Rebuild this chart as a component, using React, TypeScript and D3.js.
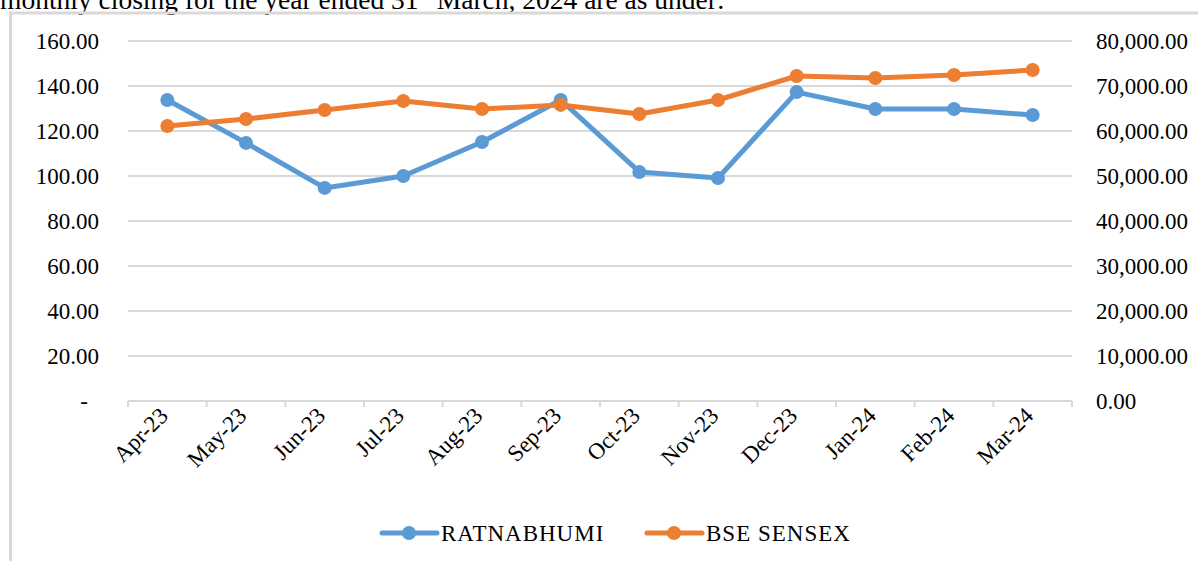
import React, { useEffect, useRef } from 'react';
import * as d3 from 'd3';

const months = ['Apr-23', 'May-23', 'Jun-23', 'Jul-23', 'Aug-23', 'Sep-23', 'Oct-23', 'Nov-23', 'Dec-23', 'Jan-24', 'Feb-24', 'Mar-24'];
const ratnabhumi = [133.8, 114.7, 94.7, 100.0, 115.1, 133.8, 101.8, 99.1, 137.3, 129.8, 129.8, 127.1];
const sensex = [61100, 62660, 64670, 66660, 64890, 65800, 63770, 66890, 72220, 71780, 72440, 73550];
const leftTicks = [0, 20, 40, 60, 80, 100, 120, 140, 160];
const rightTicks = [0, 10000, 20000, 30000, 40000, 50000, 60000, 70000, 80000];

const BLUE = '#5B9BD5';
const ORANGE = '#ED7D31';
const GRID = '#d9d9d9';
const FONT = '"Liberation Serif", serif';

const App = () => {
  const svgRef = useRef(null);

  useEffect(() => {
    const width = 1198;
    const height = 561;
    const margin = { top: 41, left: 128, right: 126, bottom: 160 };
    const innerW = width - margin.left - margin.right;
    const innerH = height - margin.top - margin.bottom;

    const svg = d3.select(svgRef.current);
    svg.selectAll('*').remove();
    svg.attr('width', width).attr('height', height);

    // page text cut off at the top
    const title = svg.append('text')
      .attr('x', 0)
      .attr('y', 9)
      .attr('font-family', FONT)
      .attr('font-size', 27.5)
      .attr('fill', '#000');
    title.append('tspan').text('monthly closing for the year ended 31');
    title.append('tspan').attr('dy', -10).attr('font-size', 17).text('st');
    title.append('tspan').attr('dy', 10).text(' March, 2024 are as under:');

    // chart frame
    svg.append('rect')
      .attr('x', 10.5)
      .attr('y', 13)
      .attr('width', 1200)
      .attr('height', 600)
      .attr('fill', 'none')
      .attr('stroke', GRID)
      .attr('stroke-width', 3);

    const g = svg.append('g').attr('transform', `translate(${margin.left},${margin.top})`);

    const x = d3.scaleBand().domain(months).range([0, innerW]);
    const yL = d3.scaleLinear().domain([0, 160]).range([innerH, 0]);
    const yR = d3.scaleLinear().domain([0, 80000]).range([innerH, 0]);

    // gridlines
    g.selectAll('.grid')
      .data(leftTicks.filter(d => d > 0))
      .enter()
      .append('line')
      .attr('x1', 0)
      .attr('x2', innerW)
      .attr('y1', d => yL(d))
      .attr('y2', d => yL(d))
      .attr('stroke', GRID)
      .attr('stroke-width', 2);

    // x axis
    g.append('line')
      .attr('x1', 0).attr('x2', innerW)
      .attr('y1', innerH).attr('y2', innerH)
      .attr('stroke', GRID).attr('stroke-width', 2);
    const bounds = months.map(m => x(m)).concat([innerW]);
    g.selectAll('.xtick')
      .data(bounds)
      .enter()
      .append('line')
      .attr('x1', d => d).attr('x2', d => d)
      .attr('y1', innerH).attr('y2', innerH + 6)
      .attr('stroke', GRID).attr('stroke-width', 2);

    g.selectAll('.xlabel')
      .data(months)
      .enter()
      .append('text')
      .attr('transform', d => `translate(${x(d) + x.bandwidth() / 2 + 2},${innerH + 16}) rotate(-45)`)
      .attr('text-anchor', 'end')
      .attr('font-family', FONT)
      .attr('font-size', 23)
      .attr('fill', '#000')
      .text(d => d);

    // left axis labels
    g.selectAll('.ylabel')
      .data(leftTicks)
      .enter()
      .append('text')
      .attr('x', d => (d === 0 ? -40 : -29))
      .attr('y', d => yL(d))
      .attr('dy', '0.35em')
      .attr('text-anchor', 'end')
      .attr('font-family', FONT)
      .attr('font-size', 23)
      .attr('fill', '#000')
      .text(d => (d === 0 ? '-' : d3.format('.2f')(d)));

    // right axis labels
    g.selectAll('.rlabel')
      .data(rightTicks)
      .enter()
      .append('text')
      .attr('x', innerW + 24)
      .attr('y', d => yR(d))
      .attr('dy', '0.35em')
      .attr('text-anchor', 'start')
      .attr('font-family', FONT)
      .attr('font-size', 23)
      .attr('fill', '#000')
      .text(d => d3.format(',.2f')(d));

    const cx = (m: string) => x(m) + x.bandwidth() / 2;

    const series = [
      { values: ratnabhumi, y: yL, color: BLUE },
      { values: sensex, y: yR, color: ORANGE },
    ];

    series.forEach(s => {
      const line = d3.line<number>()
        .x((d, i) => cx(months[i]))
        .y(d => s.y(d));
      g.append('path')
        .datum(s.values)
        .attr('d', line)
        .attr('fill', 'none')
        .attr('stroke', s.color)
        .attr('stroke-width', 5)
        .attr('stroke-linejoin', 'round')
        .attr('stroke-linecap', 'round');
      g.selectAll(null)
        .data(s.values)
        .enter()
        .append('circle')
        .attr('cx', (d, i) => cx(months[i]))
        .attr('cy', d => s.y(d))
        .attr('r', 7)
        .attr('fill', s.color);
    });

    // legend
    const legend = [
      { name: 'RATNABHUMI', color: BLUE, x: 382 },
      { name: 'BSE SENSEX', color: ORANGE, x: 647 },
    ];
    const lg = svg.append('g');
    legend.forEach(l => {
      lg.append('line')
        .attr('x1', l.x).attr('x2', l.x + 55)
        .attr('y1', 533).attr('y2', 533)
        .attr('stroke', l.color).attr('stroke-width', 5)
        .attr('stroke-linecap', 'round');
      lg.append('circle')
        .attr('cx', l.x + 27).attr('cy', 533).attr('r', 7)
        .attr('fill', l.color);
      lg.append('text')
        .attr('x', l.x + 59)
        .attr('y', 533)
        .attr('dy', '0.35em')
        .attr('font-family', FONT)
        .attr('font-size', 23)
        .attr('letter-spacing', 1)
        .attr('fill', '#000')
        .text(l.name);
    });
  }, []);

  return (
    <svg ref={svgRef} style={{ position: 'absolute', left: 0, top: 0, display: 'block' }}></svg>
  );
};

export default App;
